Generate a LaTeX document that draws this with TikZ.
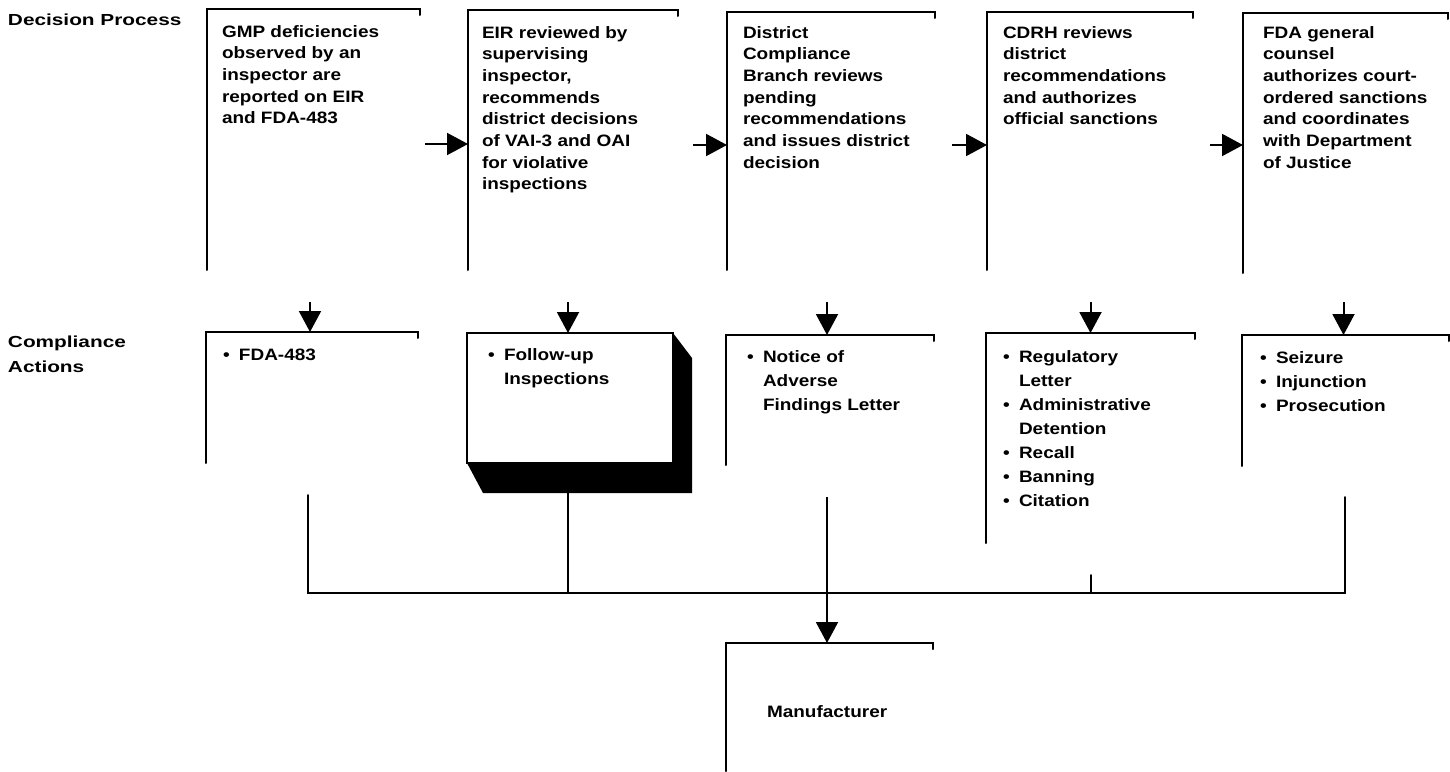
\documentclass[tikz,border=0pt]{standalone}
\usepackage{fontspec}
\setmainfont{Liberation Sans}[FakeStretch=1.15]
\newfontfamily\labfont{Liberation Sans}[FakeStretch=1.3]
\usetikzlibrary{arrows.meta,calc}
\newcommand{\topfont}{\fontsize{16.5}{21.7}\selectfont\bfseries}
\newcommand{\botfont}{\fontsize{16.5}{24}\selectfont\bfseries}
\newcommand{\lbfont}{\labfont\fontsize{16}{25}\selectfont\bfseries}
\newcommand{\bul}{\makebox[16pt][l]{\textbullet}}
\newcommand{\ind}{\hspace*{16pt}}
\newcommand{\lines}[1]{\begin{tabular}[t]{@{}l@{}}#1\end{tabular}}
\tikzset{
  frame/.style={line width=2pt, line cap=round, line join=miter},
  area/.style={inner sep=0pt, outer sep=0pt, anchor=north west, draw=none},
  txt/.style={anchor=base west, inner sep=0pt, outer sep=0pt},
  arr/.style={line width=2pt, -{Triangle[length=21pt,width=22pt]}},
}
\begin{document}
\begin{tikzpicture}[x=1pt,y=-1pt]
\useasboundingbox (0,0) rectangle (1450,771);

% row labels
\node[txt, font=\lbfont] (lab1) at (8,25) {Decision Process};
\node[txt, font=\lbfont] (lab2) at (8,347) {\lines{Compliance\\Actions}};

% decision process boxes
\node[area, minimum width=213, minimum height=261] (b1) at (207,9) {};
\node[area, minimum width=210, minimum height=260] (b2) at (468,10) {};
\node[area, minimum width=208, minimum height=258] (b3) at (727,12) {};
\node[area, minimum width=206, minimum height=258] (b4) at (987,12) {};
\node[area, minimum width=205, minimum height=260] (b5) at (1243,13) {};
\foreach \b in {b1,b2,b3,b4,b5}{
  \draw[frame] (\b.south west) -- (\b.north west) -- (\b.north east) -- ++(0,6);
}
\node[txt, font=\topfont] (t1) at (222,37) {\lines{GMP deficiencies\\observed by an\\inspector are\\reported on EIR\\and FDA-483}};
\node[txt, font=\topfont] (t2) at (482,38) {\lines{EIR reviewed by\\supervising\\inspector,\\recommends\\district decisions\\of VAI-3 and OAI\\for violative\\inspections}};
\node[txt, font=\topfont] (t3) at (743,38) {\lines{District\\Compliance\\Branch reviews\\pending\\recommendations\\and issues district\\decision}};
\node[txt, font=\topfont] (t4) at (1003,38) {\lines{CDRH reviews\\district\\recommendations\\and authorizes\\official sanctions}};
\node[txt, font=\topfont] (t5) at (1263,38) {\lines{FDA general\\counsel\\authorizes court-\\ordered sanctions\\and coordinates\\with Department\\of Justice}};

% horizontal arrows
\draw[arr] ([shift={(-43,4)}]b2.west) -- ([yshift=-4pt]b2.west);
\draw[arr] ([shift={(-34,4)}]b3.west) -- ([yshift=-4pt]b3.west);
\draw[arr] ([shift={(-35,4)}]b4.west) -- ([yshift=-4pt]b4.west);
\draw[arr] ([shift={(-33,2)}]b5.west) -- ([yshift=-2pt]b5.west);

% compliance action boxes
\node[area, minimum width=212, minimum height=131] (c1) at (206,332) {};
\node[area, minimum width=206, minimum height=130] (c2) at (467,333) {};
\node[area, minimum width=208, minimum height=130] (c3) at (726,335) {};
\node[area, minimum width=209, minimum height=210] (c4) at (986,333) {};
\node[area, minimum width=207, minimum height=131] (c5) at (1242,335) {};
\foreach \c in {c1,c3,c4,c5}{
  \draw[frame] (\c.south west) -- (\c.north west) -- (\c.north east) -- ++(0,6);
}
\fill[black] (c2.north east) -- ++(19,25) -- ([shift={(19,30)}]c2.south east)
  -- ([shift={(16,30)}]c2.south west) -- (c2.south west) -- cycle;
\draw[frame, fill=white] (c2.south west) rectangle (c2.north east);

\node[txt, font=\botfont] (d1) at (223,360) {\lines{\bul FDA-483}};
\node[txt, font=\botfont] (d2) at (488,360) {\lines{\bul Follow-up\\\ind Inspections}};
\node[txt, font=\botfont] (d3) at (747,362) {\lines{\bul Notice of\\\ind Adverse\\\ind Findings Letter}};
\node[txt, font=\botfont] (d4) at (1003,362) {\lines{\bul Regulatory\\\ind Letter\\\bul Administrative\\\ind Detention\\\bul Recall\\\bul Banning\\\bul Citation}};
\node[txt, font=\botfont] (d5) at (1260,363) {\lines{\bul Seizure\\\bul Injunction\\\bul Prosecution}};

% vertical arrows into compliance boxes
\draw[arr] ([shift={(-2,-30)}]c1.north) -- ([xshift=-2pt]c1.north);
\draw[arr] ([shift={(-2,-31)}]c2.north) -- ([xshift=-2pt]c2.north);
\draw[arr] ([shift={(-3,-33)}]c3.north) -- ([xshift=-3pt]c3.north);
\draw[arr] ([shift={(0,-31)}]c4.north) -- (c4.north);
\draw[arr] ([shift={(-2,-33)}]c5.north) -- ([xshift=-2pt]c5.north);

% manufacturer
\node[area, minimum width=207, minimum height=128] (m) at (726,643) {};
\draw[frame] (m.south west) -- (m.north west) -- (m.north east) -- ++(0,6);
\node[txt, font=\botfont] (mt) at (767,717) {Manufacturer};

% collecting bus
\coordinate (busL) at (308,593);
\coordinate (busR) at (1345,593);
\draw[frame] ([yshift=-32pt]c1.south -| busL) -- (busL) -- (busR) -- ([yshift=-31pt]c5.south -| busR);
\draw[frame] ([shift={(-2,30)}]c2.south) -- ([xshift=-2pt]c2.south |- busL);
\draw[frame] ([yshift=-32pt]c4.south) -- (c4.south |- busL);
\draw[arr] ([shift={(-3,32)}]c3.south) -- ([xshift=-3pt]c3.south |- m.north);
\end{tikzpicture}
\end{document}
